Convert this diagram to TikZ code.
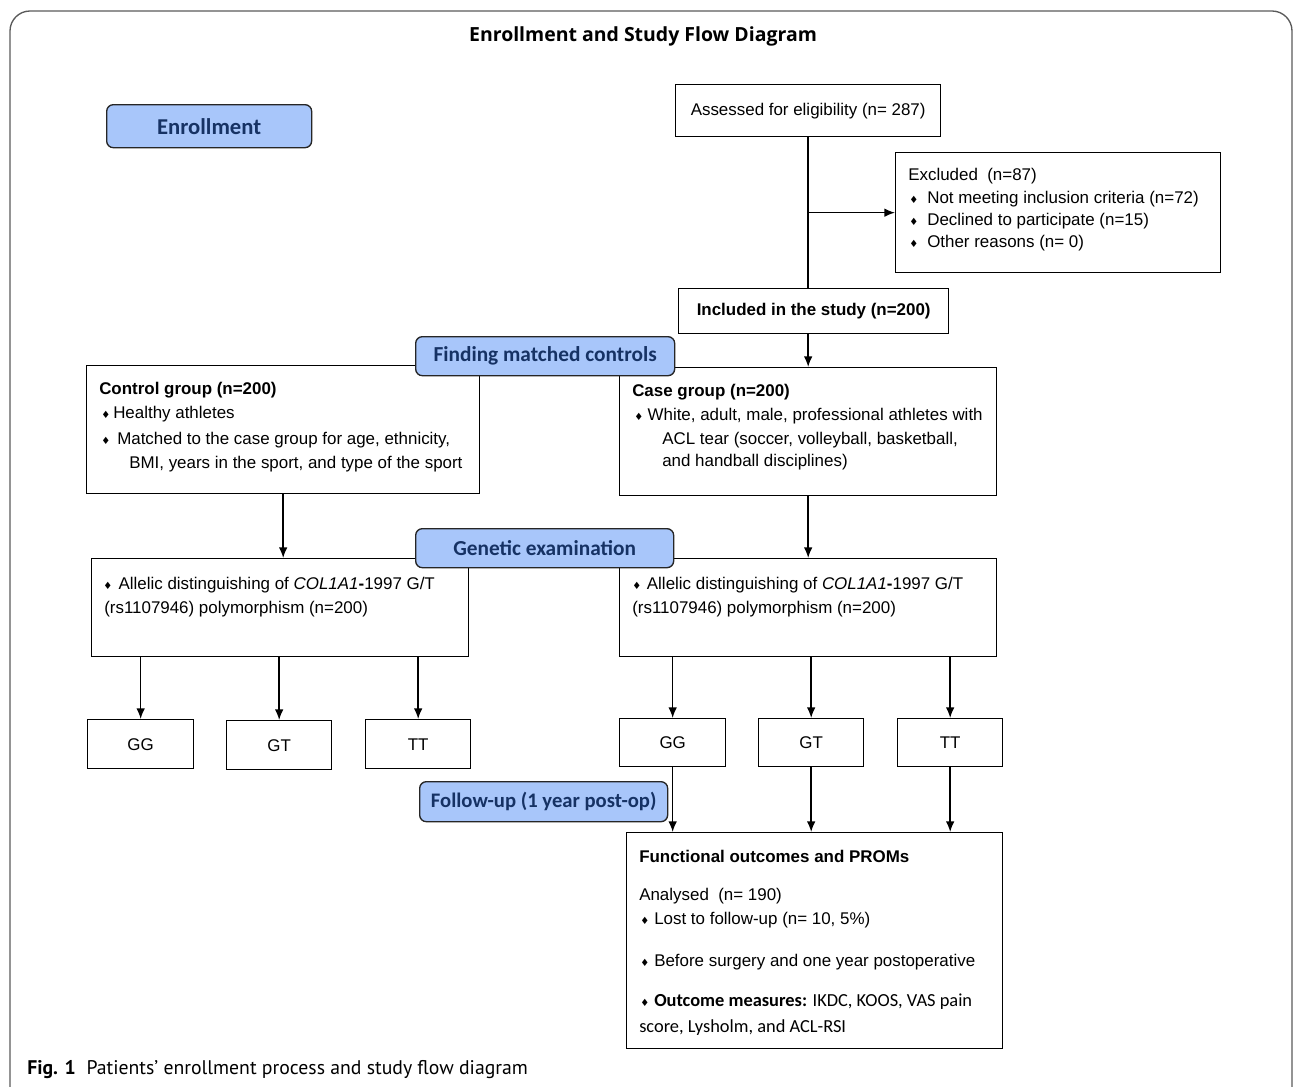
\documentclass[tikz,border=0pt]{standalone}
\usepackage{fontspec}
\setmainfont{Liberation Sans}
\newfontfamily\calib{Carlito}
\newfontfamily\titlef{Open Sans}
\newfontfamily\capf{PT Sans}
\newfontfamily\dejavu{DejaVu Sans}
\usetikzlibrary{arrows.meta}
\definecolor{lblue}{RGB}{168,198,250}
\definecolor{navy}{RGB}{22,50,100}
\definecolor{framegray}{RGB}{90,90,90}
\newcommand\bul{{\fontsize{7.5}{7.5}\selectfont\dejavu ♦}}
\newcommand\bi[2]{\makebox[#1][l]{\bul}#2}
\begin{document}
\begin{tikzpicture}[x=0.75pt,y=-0.75pt,
  sz/.style n args={2}{minimum width=#1*0.75pt, minimum height=#2*0.75pt, anchor=north west},
  box/.style={draw=black, line width=1pt, inner sep=0pt, font=\fontsize{12.7}{15}\selectfont},
  bluebox/.style={draw=black!85, line width=1pt, fill=lblue, rounded corners=5pt, inner sep=0pt, text=navy, font=\calib\bfseries\fontsize{16}{18}\selectfont},
  txt/.style={anchor=base west, inner sep=0pt, font=\fontsize{12.7}{15}\selectfont},
  ctxt/.style={anchor=base west, inner sep=0pt, font=\calib\fontsize{13.8}{16}\selectfont},
  arr/.style={-{Latex[length=8pt,width=6.5pt]}, line width=1.2pt},
  conn/.style={line width=1.2pt}]
\useasboundingbox (0,0) rectangle (1293,1086);
\clip (0,0) rectangle (1293,1086);
\draw[framegray, line width=1pt, rounded corners=15pt] (10,11) rectangle (1292,1120);

% title
\node[inner sep=0pt, font=\titlef\bfseries\fontsize{14.6}{17}\selectfont] (title) at (643,36) {Enrollment and Study Flow Diagram};

% boxes
\node[box, sz={265}{52}] (assess) at (675,84) {Assessed for eligibility (n= 287)};
\node[box, sz={325}{120}] (excl) at (895,152) {};
\node[box, sz={270}{45}, font=\bfseries\fontsize{12.7}{15}\selectfont] (incl) at (678,288) {Included in the study (n=200)};
\node[box, sz={393}{128}] (ctrl) at (86,365) {};
\node[box, sz={377}{128}] (case) at (619,367) {};
\node[box, sz={377}{98}] (alL) at (91,558) {};
\node[box, sz={377}{98}] (alR) at (619,558) {};
\node[box, sz={106}{49}] (ggL) at (87,719) {GG};
\node[box, sz={105}{49}] (gtL) at (226,720) {GT};
\node[box, sz={105}{49}] (ttL) at (365,719) {TT};
\node[box, sz={106}{48}] (ggR) at (619,718) {GG};
\node[box, sz={105}{48}] (gtR) at (758,718) {GT};
\node[box, sz={105}{48}] (ttR) at (897,718) {TT};
\node[box, sz={376}{216}] (func) at (626,832) {};

% texts: excluded
\node[txt] (e1) at (908,180) {Excluded\ \ (n=87)};
\node[txt] (e2) at (909,203) {\bi{13.5pt}{Not meeting inclusion criteria (n=72)}};
\node[txt] (e3) at (909,225) {\bi{13.5pt}{Declined to participate (n=15)}};
\node[txt] (e4) at (909,247) {\bi{13.5pt}{Other reasons (n= 0)}};
% control
\node[txt, font=\bfseries\fontsize{12.7}{15}\selectfont] (c1) at (99,394) {Control group (n=200)};
\node[txt] (c2) at (101,418) {\bi{9pt}{Healthy athletes}};
\node[txt] (c3) at (101,444) {\bi{12pt}{Matched to the case group for age, ethnicity,}};
\node[txt] (c4) at (129,468) {BMI, years in the sport, and type of the sport};
% case
\node[txt, font=\bfseries\fontsize{12.7}{15}\selectfont] (k1) at (632,396) {Case group (n=200)};
\node[txt] (k2) at (634,420) {\bi{10pt}{White, adult, male, professional athletes with}};
\node[txt] (k3) at (662,444) {ACL tear (soccer, volleyball, basketball,};
\node[txt] (k4) at (662,466) {and handball disciplines)};
% allelic
\node[txt] (a1) at (103,589) {\bi{11.5pt}{Allelic distinguishing of \textit{COL1A1}\textbf{-}1997 G/T}};
\node[txt] (a2) at (104,613) {(rs1107946) polymorphism (n=200)};
\node[txt] (a3) at (632,589) {\bi{11pt}{Allelic distinguishing of \textit{COL1A1}\textbf{-}1997 G/T}};
\node[txt] (a4) at (632,613) {(rs1107946) polymorphism (n=200)};
% functional
\node[txt, font=\bfseries\fontsize{12.7}{15}\selectfont] (f1) at (639,862) {Functional outcomes and PROMs};
\node[txt] (f2) at (639,900) {Analysed\ \ (n= 190)};
\node[txt] (f3) at (640,924) {\bi{10.5pt}{Lost to follow-up (n= 10, 5\%)}};
\node[txt] (f4) at (640,966) {\bi{10.5pt}{Before surgery and one year postoperative}};
\node[txt] (f5) at (640,1006) {\bi{10.5pt}{{\calib\fontsize{13.8}{16}\selectfont\textbf{Outcome measures:} IKDC, KOOS, VAS pain}}};
\node[ctxt] (f6) at (639,1032) {score, Lysholm, and ACL-RSI};

% connectors
\draw[conn] (assess.south) -- (assess.south |- incl.north);
\coordinate (br) at (assess.south |- excl.west);
\draw[arr] (br) -- (excl.west);
\draw[arr] (case.north |- incl.south) -- (case.north);
\draw[arr] (ctrl.south) -- (ctrl.south |- alL.north);
\draw[arr] (case.south) -- (alR.north);
\draw[arr] (ggL.north |- alL.south) -- (ggL.north);
\draw[arr] (gtL.north |- alL.south) -- (gtL.north);
\draw[arr] (ttL.north |- alL.south) -- (ttL.north);
\draw[arr] (ggR.north |- alR.south) -- (ggR.north);
\draw[arr] (gtR.north |- alR.south) -- (gtR.north);
\draw[arr] (ttR.north |- alR.south) -- (ttR.north);
\draw[arr] (ggR.south) -- (ggR.south |- func.north);
\draw[arr] (gtR.south) -- (gtR.south |- func.north);
\draw[arr] (ttR.south) -- (ttR.south |- func.north);

% blue labels
\node[bluebox, sz={205}{43}, font=\calib\bfseries\fontsize{17}{19}\selectfont] (enr) at (106,104) {Enrollment};
\node[bluebox, sz={259}{39}] (match) at (415,336) {Finding matched controls};
\node[bluebox, sz={258}{39}] (gen) at (415,528) {Genetic examination};
\node[bluebox, sz={248}{40}, font=\calib\bfseries\fontsize{15.5}{18}\selectfont] (fol) at (419,781) {Follow-up (1 year post-op)};

% caption
\node[anchor=base west, inner sep=0pt, font=\capf\fontsize{14.8}{17}\selectfont] (cap) at (27,1074) {\textbf{Fig. 1}\hspace{8pt}Patients’ enrollment process and study flow diagram};
\end{tikzpicture}
\end{document}
